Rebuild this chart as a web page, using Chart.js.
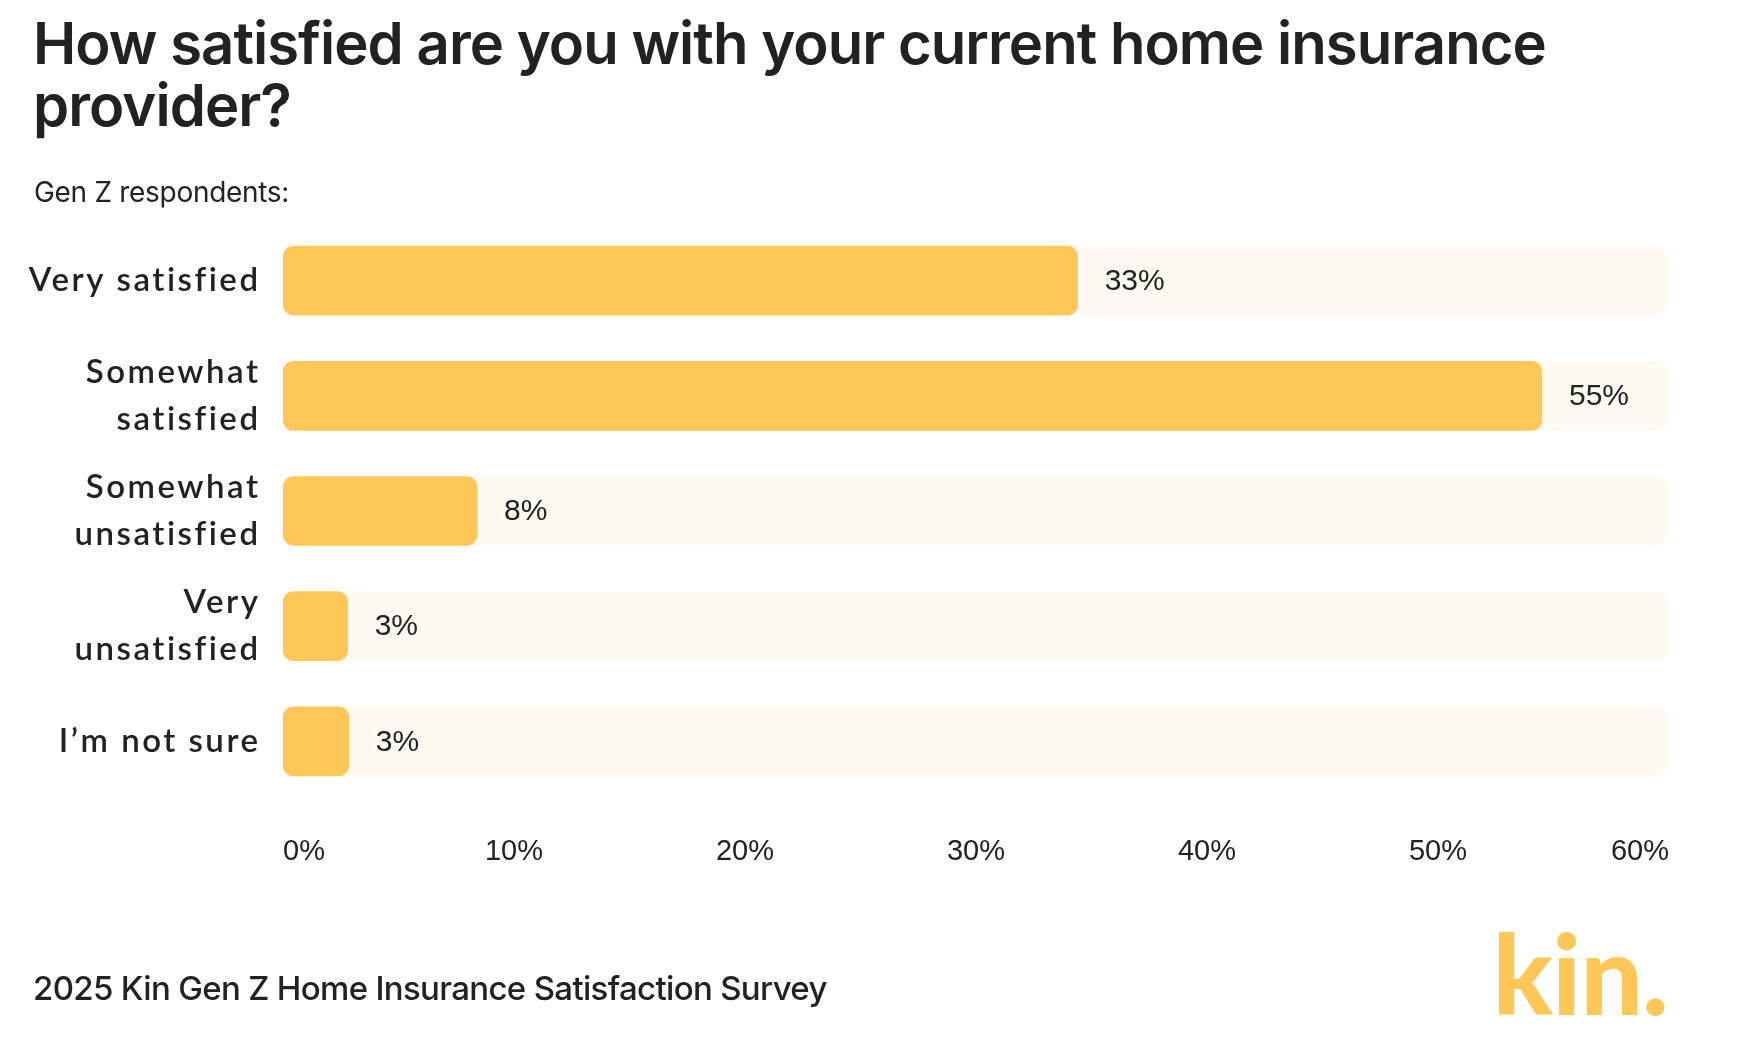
<!DOCTYPE html>
<html>
<head>
<meta charset="utf-8">
<script src="https://cdn.jsdelivr.net/npm/chart.js@4.4.1/dist/chart.umd.min.js"></script>
<style>
  html, body { margin: 0; padding: 0; background: #ffffff; }
  #wrap { position: relative; width: 1762px; height: 1040px; overflow: hidden; background: #fff; }
  #chartBox { position: absolute; left: 0; top: 0; width: 1762px; height: 1040px; }
  .txt { position: absolute; color: #222222; white-space: nowrap; }
  #title { left: 33px; top: 12px; font-family: "Inter", sans-serif; font-weight: 600; font-size: 58px; line-height: 62px; letter-spacing: -0.95px; }
  #subtitle { left: 34px; top: 175px; font-family: "Inter", sans-serif; font-weight: 400; font-size: 28px; line-height: 34px; letter-spacing: -0.3px; }
  #footer { left: 33px; top: 968px; font-family: "Inter", sans-serif; font-weight: 500; font-size: 33px; line-height: 40px; letter-spacing: -0.67px; }
  #logo { right: 94px; top: 910px; font-family: "Lato", sans-serif; font-weight: 900; font-size: 110px; line-height: 124px; color: #FEC758; letter-spacing: -0.5px; }
</style>
</head>
<body>
<div id="wrap">
  <div id="chartBox"><canvas id="c"></canvas></div>
  <div id="title" class="txt">How satisfied are you with your current home insurance<br>provider?</div>
  <div id="subtitle" class="txt">Gen Z respondents:</div>
  <div id="footer" class="txt">2025 Kin Gen Z Home Insurance Satisfaction Survey</div>
  <div id="logo" class="txt">kin.</div>
</div>
<script>
// ---- data ----
const categories = [
  ["Very satisfied"],
  ["Somewhat", "satisfied"],
  ["Somewhat", "unsatisfied"],
  ["Very", "unsatisfied"],
  ["I\u2019m not sure"]
];
const barValues = [34.4, 54.5, 8.4, 2.8, 2.85];      // drawn bar lengths (%)
const valueLabels = ["33%", "55%", "8%", "3%", "3%"]; // printed labels
const trackValues = [60, 60, 60, 60, 60];             // full-scale background track
const axisMin = 0;
const axisMax = 60;
const axisStep = 10;

const BAR = '#FEC758';
const TRACK = '#FEF9F1';
const INK = '#222222';

const valueLabelPlugin = {
  id: 'valueLabels',
  afterLayout(chart) {
    const ys = chart.scales.y;
    if (ys && !ys._spacedLabels) {
      const orig = ys.drawLabels;
      ys.drawLabels = function (area) {
        const ctx = this.ctx;
        ctx.save();
        ctx.letterSpacing = '2.5px';
        ctx.translate(2.5, 0);
        orig.call(this, area);
        ctx.restore();
      };
      ys._spacedLabels = true;
    }
  },
  afterDatasetsDraw(chart) {
    const meta = chart.getDatasetMeta(0);
    const ctx = chart.ctx;
    ctx.save();
    ctx.font = '30px "Liberation Sans", Arial, sans-serif';
    ctx.fillStyle = INK;
    ctx.textAlign = 'left';
    ctx.textBaseline = 'middle';
    meta.data.forEach((bar, i) => {
      ctx.fillText(valueLabels[i], bar.x + 27, bar.y + 1);
    });
    ctx.restore();
  }
};

new Chart(document.getElementById('c'), {
  type: 'bar',
  data: {
    labels: categories,
    datasets: [
      {
        data: barValues,
        backgroundColor: BAR,
        borderRadius: 11,
        borderSkipped: false,
        barThickness: 69,
        grouped: false
      },
      {
        data: trackValues,
        backgroundColor: TRACK,
        borderRadius: 15,
        borderSkipped: false,
        barThickness: 69,
        grouped: false
      }
    ]
  },
  options: {
    indexAxis: 'y',
    responsive: true,
    maintainAspectRatio: false,
    animation: false,
    layout: { padding: { left: 0, right: 93, top: 223, bottom: 141 } },
    plugins: { legend: { display: false }, tooltip: { enabled: false }, title: { display: false } },
    scales: {
      x: {
        min: axisMin,
        max: axisMax,
        grid: { display: false, drawTicks: false },
        border: { display: false },
        afterFit(scale) { scale.height = 100; },
        ticks: {
          stepSize: axisStep,
          align: 'inner',
          padding: 36,
          color: INK,
          font: { family: '"Liberation Sans", Arial, sans-serif', size: 29 },
          callback: (v) => v + '%'
        }
      },
      y: {
        grid: { display: false, drawTicks: false },
        border: { display: false },
        afterFit(scale) { scale.width = 283; },
        ticks: {
          padding: 25,
          color: INK,
          font: { family: '"Lato", sans-serif', size: 33, weight: '600', lineHeight: 1.43 }
        }
      }
    }
  },
  plugins: [valueLabelPlugin]
});
</script>
</body>
</html>
